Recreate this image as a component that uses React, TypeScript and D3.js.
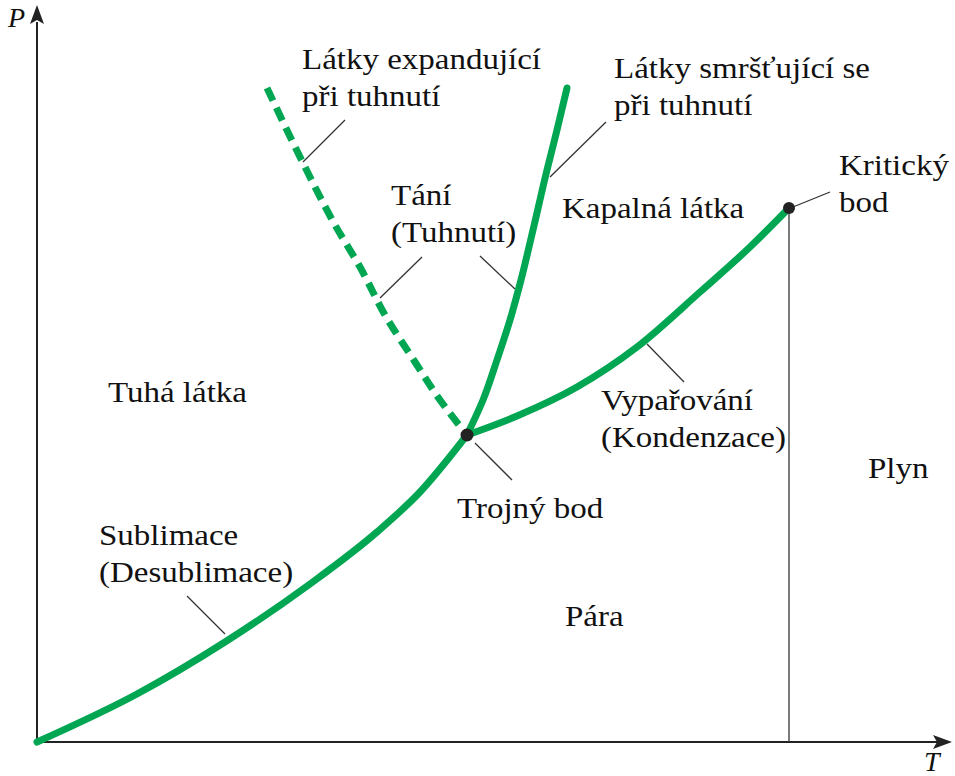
import React from "react";
import * as d3 from "d3";

// Phase-diagram curves (T, P in arbitrary units: 0..915, 0..737)
const sublimation: [number, number][] = [
  [0, 0], [100, 48], [188, 100], [273, 158], [340, 210], [383, 250], [430, 307],
];
const vaporization: [number, number][] = [
  [430, 307], [480, 326], [540, 355], [600, 395], [663, 450], [713, 495], [752, 534],
];
const meltingContracting: [number, number][] = [
  [430, 307], [446, 342], [460, 382], [473, 422], [484, 462], [496, 512], [510, 572], [520, 612], [530, 654],
];
const meltingExpanding: [number, number][] = [
  [430, 307], [403, 342], [378, 380], [348, 427], [323, 475], [298, 517], [266, 579], [230, 654],
];
const triplePoint: [number, number] = [430, 307];
const criticalPoint: [number, number] = [752, 534];

const regionLabels = [
  { lines: ["Tuhá látka"], at: [71, 340] },
  { lines: ["Kapalná látka"], at: [525, 524] },
  { lines: ["Plyn"], at: [831, 264] },
  { lines: ["Pára"], at: [528, 116] },
];
const annotations = [
  { lines: ["Látky expandující", "při tuhnutí"], at: [265, 673], leader: [[308, 622], [266, 580]] },
  { lines: ["Látky smršťující se", "při tuhnutí"], at: [577, 664], leader: [[569, 620], [513, 565]] },
  { lines: ["Tání", "(Tuhnutí)"], at: [354, 537], leader: [[385, 485], [343, 444]] },
  { lines: [], at: [0, 0], leader: [[443, 486], [478, 453]] },
  { lines: ["Kritický", "bod"], at: [802, 567], leader: [[793, 550], [756, 535]] },
  { lines: ["Vypařování", "(Kondenzace)"], at: [564, 332], leader: [[647, 360], [610, 398]] },
  { lines: ["Trojný bod"], at: [420, 224], leader: [[475, 262], [438, 299]] },
  { lines: ["Sublimace", "(Desublimace)"], at: [62, 197], leader: [[188, 108], [150, 146]] },
];

const W = 955;
const H = 776;
const GREEN = "#00a651";
const FONT = "'Liberation Serif', Tinos, 'DejaVu Serif', serif";
const FS = 30;
const LH = 37;
const STRETCH = 1.1;

export default function App() {
  const x = d3.scaleLinear().domain([0, 915]).range([37, 952]);
  const y = d3.scaleLinear().domain([0, 737]).range([742, 5]);
  const lineX = d3
    .line<[number, number]>()
    .x((d) => x(d[0]))
    .y((d) => y(d[1]))
    .curve(d3.curveMonotoneX);
  const lineY = d3
    .line<[number, number]>()
    .x((d) => x(d[0]))
    .y((d) => y(d[1]))
    .curve(d3.curveMonotoneY);

  const renderLabel = (lines: string[], at: number[], key: string) => (
    <g key={key} transform={`translate(${x(at[0])},${y(at[1])}) scale(${STRETCH},1)`}>
      <text x={0} y={0} style={{ fontFamily: FONT }} fontSize={FS} fill="#111">
        {lines.map((l, i) => (
          <tspan key={i} x={0} dy={i === 0 ? 0 : LH}>
            {l}
          </tspan>
        ))}
      </text>
    </g>
  );

  const sortY = (a: [number, number][]) => [...a].sort((p, q) => y(p[1]) - y(q[1]));

  return (
    <svg
      width={W}
      height={H}
      style={{ position: "absolute", left: 0, top: 0, background: "#fff" }}
    >
      {/* axes */}
      <line x1={x(0)} y1={y(0)} x2={x(0)} y2={y(720)} stroke="#222" strokeWidth={2} />
      <path d={`M${x(0)},${y(737)} L${x(0) - 7},${y(718)} L${x(0)},${y(722)} L${x(0) + 7},${y(718)} Z`} fill="#222" />
      <line x1={x(0)} y1={y(0)} x2={x(900)} y2={y(0)} stroke="#222" strokeWidth={2} />
      <path d={`M${x(915)},${y(0)} L${x(896)},${y(0) - 7} L${x(900)},${y(0)} L${x(896)},${y(0) + 7} Z`} fill="#222" />
      <text x={8} y={27} style={{ fontFamily: FONT }} fontStyle="italic" fontSize={28} fill="#111">P</text>
      <text x={924} y={771} style={{ fontFamily: FONT }} fontStyle="italic" fontSize={28} fill="#111">T</text>

      {/* critical temperature line */}
      <line x1={x(criticalPoint[0])} y1={y(criticalPoint[1])} x2={x(criticalPoint[0])} y2={y(0)} stroke="#333" strokeWidth={1.3} />

      {/* leader lines */}
      {annotations.map((a, i) => (
        <line
          key={"ld" + i}
          x1={x(a.leader[0][0])}
          y1={y(a.leader[0][1])}
          x2={x(a.leader[1][0])}
          y2={y(a.leader[1][1])}
          stroke="#333"
          strokeWidth={1.3}
        />
      ))}

      {/* curves */}
      <path d={lineX(sublimation) || ""} fill="none" stroke={GREEN} strokeWidth={7} strokeLinecap="round" />
      <path d={lineX(vaporization) || ""} fill="none" stroke={GREEN} strokeWidth={7} strokeLinecap="round" />
      <path d={lineY(sortY(meltingContracting)) || ""} fill="none" stroke={GREEN} strokeWidth={7} strokeLinecap="round" />
      <path d={lineY(sortY(meltingExpanding)) || ""} fill="none" stroke={GREEN} strokeWidth={7} strokeDasharray="14 8" />

      <circle cx={x(triplePoint[0])} cy={y(triplePoint[1])} r={6.5} fill="#222" />
      <circle cx={x(criticalPoint[0])} cy={y(criticalPoint[1])} r={6} fill="#222" />

      {regionLabels.map((r, i) => renderLabel(r.lines, r.at, "r" + i))}
      {annotations.map((a, i) => (a.lines.length ? renderLabel(a.lines, a.at, "a" + i) : null))}
    </svg>
  );
}
